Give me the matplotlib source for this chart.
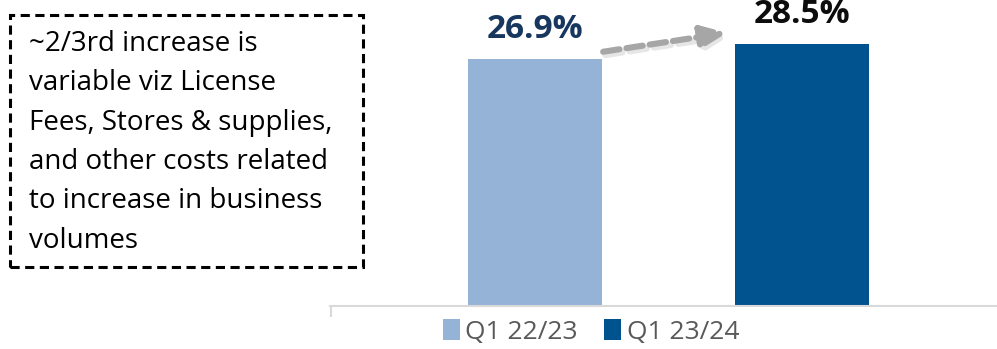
import matplotlib
matplotlib.use("Agg")
import matplotlib.pyplot as plt
from matplotlib.patches import Rectangle, Patch

categories = ["Q1 22/23", "Q1 23/24"]
values = [26.9, 28.5]
labels = ["26.9%", "28.5%"]
bar_colors = ["#95B3D7", "#00538F"]
label_colors = ["#17375E", "#0D0D0D"]
note = ("~2/3rd increase is\nvariable viz License\nFees, Stores & supplies,\n"
        "and other costs related\nto increase in business\nvolumes")

plt.rcParams['font.family'] = ['Open Sans', 'DejaVu Sans']

W, H = 997, 349
fig = plt.figure(figsize=(W / 100, H / 100), dpi=100)
ax = fig.add_axes([330 / W, 1 - 306 / H, 1 - 330 / W, 306 / H])

x = list(range(len(values)))
width = 0.5
ax.bar(x, values, width=width, color=bar_colors, zorder=2)
ax.set_xlim(-0.768, 1.73)
ax.set_ylim(0, 33.3)

for xi, v, lab, c in zip(x, values, labels, label_colors):
    ax.annotate(lab, xy=(xi, v), xytext=(0, 15), textcoords="offset points",
                ha="center", va="baseline", fontsize=24, fontweight="bold",
                color=c)

# dashed arrow between bars (soft shadow + arrow)
start = (x[0] + width / 2 + 0.005, values[0] + 0.77)
end = (x[1] - width / 2 - 0.031, values[1] + 1.24)
astyle = "-|>,head_length=1.5,head_width=0.65"
ax.annotate("", xy=(end[0] + 0.008, end[1] - 0.35), xytext=(start[0] + 0.008, start[1] - 0.35),
            arrowprops=dict(arrowstyle=astyle, linestyle=(0, (2.7, 1.15)), lw=4.6,
                            color="#E6E6E6", shrinkA=0, shrinkB=0))
ax.annotate("", xy=end, xytext=start,
            arrowprops=dict(arrowstyle=astyle, linestyle=(0, (2.7, 1.15)), lw=4.4,
                            color="#A6A6A6", shrinkA=0, shrinkB=0))

for s in ["top", "right", "left"]:
    ax.spines[s].set_visible(False)
ax.spines["bottom"].set_color("#D9D9D9")
ax.spines["bottom"].set_linewidth(1.5)
ax.set_yticks([])
ax.set_xticks([ax.get_xlim()[0] + 0.005])
ax.set_xticklabels([])
ax.tick_params(axis="x", length=8, width=1.5, color="#D9D9D9", direction="out")

handles = [Patch(facecolor=c, edgecolor="none") for c in bar_colors]
leg = fig.legend(handles, categories, loc="center", bbox_to_anchor=(591 / W, 1 - 332 / H),
                 ncol=2, frameon=False, fontsize=19, handlelength=0.64, handleheight=0.8,
                 handletextpad=0.22, columnspacing=1.0, borderpad=0, borderaxespad=0)
for t in leg.get_texts():
    t.set_color("#595959")

# dashed note box
rect = Rectangle((10 / W, 1 - 267 / H), 353 / W, 252 / H, transform=fig.transFigure,
                 fill=False, edgecolor="#000000", linewidth=2.2,
                 linestyle=(0, (3, 1.8)))
fig.add_artist(rect)
fig.text(29 / W, 1 - 30 / H, note, ha="left", va="top", fontsize=20,
         linespacing=1.54, color="#000000")

fig.savefig("out.png", dpi=100)
